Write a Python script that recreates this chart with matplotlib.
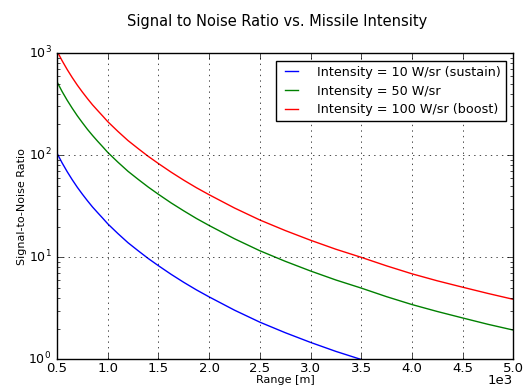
import matplotlib
matplotlib.use("Agg")
import matplotlib.pyplot as plt
from matplotlib.ticker import FuncFormatter

# range samples [m] and SNR
range_m = [500, 550, 600, 650, 700, 750, 800, 850, 900, 950, 1000, 1100, 1200, 1300, 1400, 1500,
           1625, 1750, 1875, 2000, 2250, 2500, 2750, 3000, 3250, 3500, 3750, 4000, 4250, 4500, 4750, 5000]
snr_10 = [104.5, 84.1, 69.0, 57.5, 48.5, 41.5, 35.8, 31.1, 27.4, 24.2, 21.3, 17.1, 13.9, 11.6, 9.73, 8.28,
          6.82, 5.69, 4.80, 4.10, 3.04, 2.32, 1.83, 1.47, 1.20, 1.00, 0.825, 0.69, 0.589, 0.51, 0.443, 0.388]
snr_50 = [522, 420, 345, 288, 243, 208, 179, 156, 137, 121, 106.5, 85.5, 69.5, 58.0, 48.7, 41.4,
          34.1, 28.5, 24.0, 20.5, 15.2, 11.6, 9.15, 7.35, 6.0, 5.0, 4.12, 3.45, 2.95, 2.55, 2.21, 1.94]
snr_100 = [1045, 841, 690, 575, 485, 415, 358, 311, 274, 242, 213, 171, 139, 116, 97.3, 82.8,
           68.2, 56.9, 48.0, 41.0, 30.4, 23.2, 18.3, 14.7, 12.0, 10.0, 8.25, 6.9, 5.89, 5.1, 4.43, 3.88]

labels = ["Intensity = 10 W/sr (sustain)", "Intensity = 50 W/sr", "Intensity = 100 W/sr (boost)"]

plt.style.use("classic")
plt.rcParams["figure.facecolor"] = "white"
plt.rcParams["savefig.facecolor"] = "white"

fig = plt.figure(figsize=(5.25, 3.86), dpi=100)
ax = fig.add_axes([0.1086, 0.0687, 0.8691, 0.794])

ax.plot(range_m, snr_10, color="b", lw=1, label=labels[0])
ax.plot(range_m, snr_50, color="g", lw=1, label=labels[1])
ax.plot(range_m, snr_100, color="r", lw=1, label=labels[2])

ax.set_yscale("log")
ax.set_ylim(1, 1000)
ax.set_xlim(500, 5000)
ax.set_xticks([500, 1000, 1500, 2000, 2500, 3000, 3500, 4000, 4500, 5000])
#  tick labels in units of 1e3, offset written by hand so it sits like the original
ax.xaxis.set_major_formatter(FuncFormatter(lambda v, pos: f"{v / 1000:.1f}"))
ax.text(1.0, -0.046, "1e3", transform=ax.transAxes, ha="right", va="top", fontsize=9.5)
ax.tick_params(axis="x", labelsize=9.5, pad=2)
ax.tick_params(axis="y", labelsize=9)

ax.set_xlabel("Range [m]", fontsize=8, labelpad=0)
ax.set_ylabel("Signal-to-Noise Ratio", fontsize=8, labelpad=1)
ax.grid(True, which="major")

ax.legend(loc="upper right", fontsize=9.2, handlelength=1.6, handletextpad=1.2,
          borderaxespad=0.6, labelspacing=0.45)

fig.suptitle("Signal to Noise Ratio vs. Missile Intensity", fontsize=10.5, x=0.5286, y=0.965)

fig.savefig("out.png", dpi=100)
